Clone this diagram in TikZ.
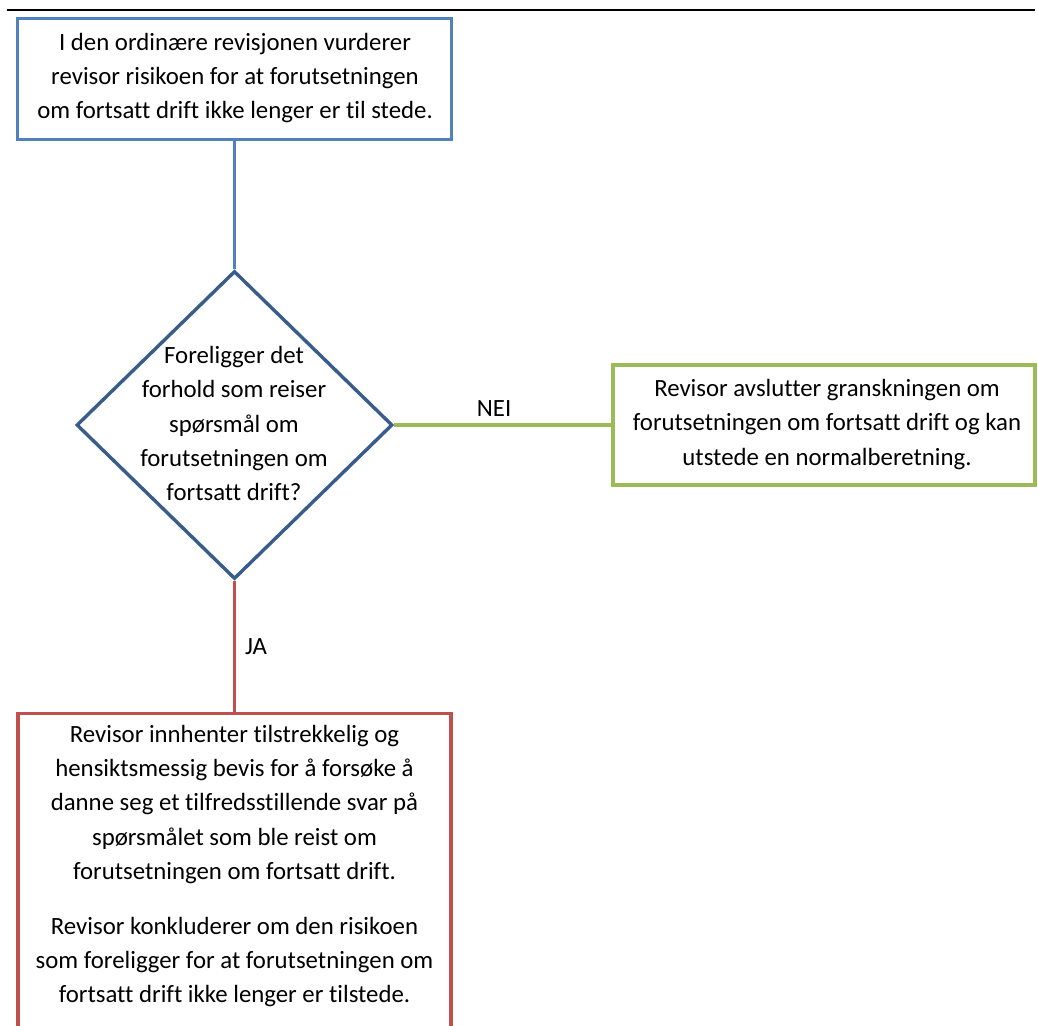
\documentclass[tikz,border=0pt]{standalone}
\usepackage{fontspec}
\setmainfont{Carlito}[Ligatures=NoCommon]
\usetikzlibrary{shapes.geometric}
\definecolor{ublue}{HTML}{4F81BD}
\definecolor{dblue}{HTML}{385D8A}
\definecolor{ugreen}{HTML}{9BBB59}
\definecolor{ured}{HTML}{C0504D}
\begin{document}
\begin{tikzpicture}[x=1pt,y=-1pt,
  txt/.style={font=\fontsize{24.8}{34.2}\selectfont, align=center, inner sep=0pt},
  lbl/.style={font=\fontsize{24.8}{30}\selectfont, inner sep=0pt},
  boxA/.style={draw=#1, line width=3.4pt, fill=white, inner sep=0pt},
  link/.style={draw=#1, line width=3.4pt}]
\useasboundingbox (0,0) rectangle (1038,1025);
\clip (0,0) rectangle (1038,1025);
\fill[white] (0,0) rectangle (1038,1025);
\draw[line width=2pt] (7,10) -- (1035,10);

\node[boxA=ublue, minimum width=434pt, minimum height=121pt] (top) at (234.5,79) {};
\node[txt] (toptext) at (235,78) {I den ordinære revisjonen vurderer\\revisor risikoen for at forutsetningen\\om fortsatt drift ikke lenger er til stede.};

\node[diamond, draw=dblue, line width=3.4pt, fill=white, inner sep=0pt,
      minimum width=316pt, minimum height=308pt] (dia) at (234.5,425) {};
\node[txt] (diatext) at (234,423.5) {Foreligger det\\forhold som reiser\\spørsmål om\\forutsetningen om\\fortsatt drift?};

\node[boxA=ugreen, minimum width=422pt, minimum height=120pt] (right) at (824,425) {};
\node[txt] (righttext) at (827,424.5) {Revisor avslutter granskningen om\\forutsetningen om fortsatt drift og kan\\utstede en normalberetning.};

\node[boxA=ured, minimum width=433pt, minimum height=400pt, anchor=north] (bot) at (234.5,712) {};
\node[txt] (bottext1) at (234.5,804.5) {Revisor innhenter tilstrekkelig og\\hensiktsmessig bevis for å forsøke å\\danne seg et tilfredsstillende svar på\\spørsmålet som ble reist om\\forutsetningen om fortsatt drift.};
\node[txt] (bottext2) at (234.5,962) {Revisor konkluderer om den risikoen\\som foreligger for at forutsetningen om\\fortsatt drift ikke lenger er tilstede.};

\draw[link=ublue] (top.south) -- (dia.north);
\draw[link=ugreen] (dia.east) -- node[lbl, pos=0.46, above=7pt] (nei) {NEI} (right.west);
\draw[link=ured] (dia.south) -- node[lbl, pos=0.5, right=9pt] (ja) {JA} (bot.north);
\end{tikzpicture}
\end{document}
